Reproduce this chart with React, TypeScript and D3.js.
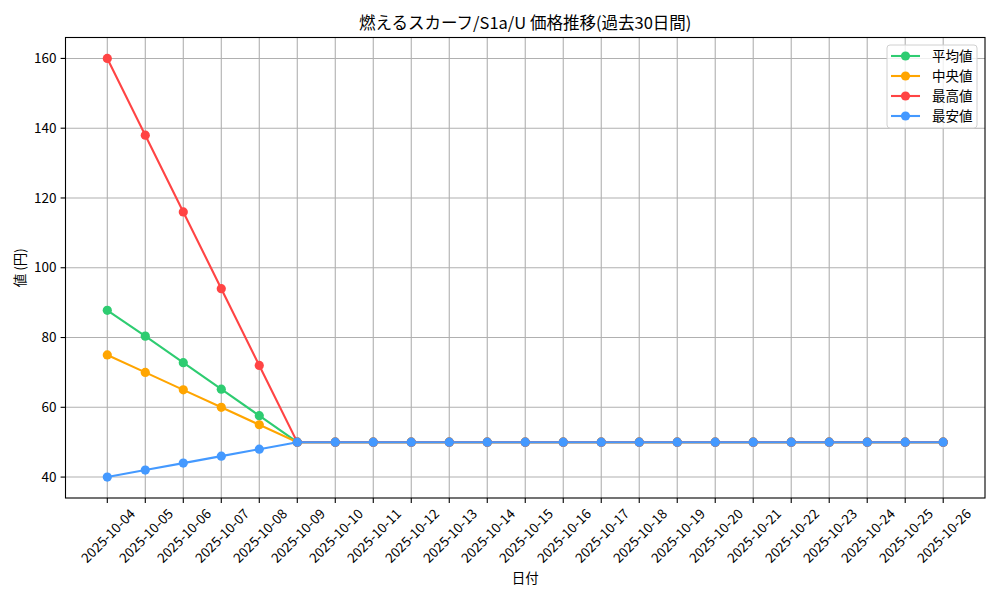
import { useEffect, useRef } from 'react'
import * as d3 from 'd3'

const DATES = [
  '2025-10-04', '2025-10-05', '2025-10-06', '2025-10-07', '2025-10-08', '2025-10-09',
  '2025-10-10', '2025-10-11', '2025-10-12', '2025-10-13', '2025-10-14', '2025-10-15',
  '2025-10-16', '2025-10-17', '2025-10-18', '2025-10-19', '2025-10-20', '2025-10-21',
  '2025-10-22', '2025-10-23', '2025-10-24', '2025-10-25', '2025-10-26',
]
const FLAT = [50, 50, 50, 50, 50, 50, 50, 50, 50, 50, 50, 50, 50, 50, 50, 50, 50]
const AVG = [87.8, 80.4, 72.8, 65.2, 57.6, ...FLAT, 50]
const MEDIAN = [75, 70, 65, 60, 55, ...FLAT, 50]
const MAX = [160, 138, 116, 94, 72, ...FLAT, 50]
const MIN = [40, 42, 44, 46, 48, ...FLAT, 50]
const Y_TICKS = [40, 60, 80, 100, 120, 140, 160]

const SERIES = [
  { name: '平均値', values: AVG, color: '#2ecc71' },
  { name: '中央値', values: MEDIAN, color: '#ffa500' },
  { name: '最高値', values: MAX, color: '#ff4444' },
  { name: '最安値', values: MIN, color: '#4499ff' },
]

const FONT = '"Noto Sans CJK JP", "DejaVu Sans", sans-serif'

export default function App() {
  const ref = useRef<SVGSVGElement>(null)

  useEffect(() => {
    if (!ref.current) return
    const svg = d3.select(ref.current)
    svg.selectAll('*').remove()

    const width = 1000
    const height = 600
    const margin = { top: 37.5, right: 15, bottom: 102, left: 65.5 }
    const iw = width - margin.left - margin.right
    const ih = height - margin.top - margin.bottom

    svg.attr('width', width).attr('height', height)
      .style('font-family', FONT)
    svg.append('rect').attr('width', width).attr('height', height).attr('fill', '#fff')

    const g = svg.append('g').attr('transform', `translate(${margin.left},${margin.top})`)

    // scales (matplotlib-like 5% margins)
    const n = DATES.length - 1
    const x = d3.scaleLinear().domain([-n * 0.05, n * 1.05]).range([0, iw])
    const y = d3.scaleLinear().domain([34, 166]).range([ih, 0])

    // grid
    g.append('g').selectAll('line').data(DATES).join('line')
      .attr('x1', (_, i) => x(i)).attr('x2', (_, i) => x(i))
      .attr('y1', 0).attr('y2', ih)
      .attr('stroke', '#b0b0b0').attr('stroke-width', 1.1)
    g.append('g').selectAll('line').data(Y_TICKS).join('line')
      .attr('x1', 0).attr('x2', iw)
      .attr('y1', d => y(d)).attr('y2', d => y(d))
      .attr('stroke', '#b0b0b0').attr('stroke-width', 1.1)

    // series
    const line = d3.line<number>().x((_, i) => x(i)).y(d => y(d))
    SERIES.forEach(s => {
      g.append('path')
        .datum(s.values)
        .attr('d', line)
        .attr('fill', 'none')
        .attr('stroke', s.color)
        .attr('stroke-width', 2.1)
      g.append('g').selectAll('circle').data(s.values).join('circle')
        .attr('cx', (_, i) => x(i)).attr('cy', d => y(d))
        .attr('r', 4.6)
        .attr('fill', s.color)
    })

    // frame
    g.append('rect').attr('width', iw).attr('height', ih)
      .attr('fill', 'none').attr('stroke', '#000').attr('stroke-width', 1.1)

    // y ticks
    const yt = g.append('g').selectAll('g').data(Y_TICKS).join('g')
      .attr('transform', d => `translate(0,${y(d)})`)
    yt.append('line').attr('x1', -4.9).attr('x2', 0).attr('stroke', '#000').attr('stroke-width', 1.1)
    yt.append('text').attr('x', -9).attr('dy', '0.35em')
      .attr('text-anchor', 'end').attr('font-size', '13.5px').attr('fill', '#000')
      .text(d => d)

    // x ticks
    const xt = g.append('g').selectAll('g').data(DATES).join('g')
      .attr('transform', (_, i) => `translate(${x(i)},${ih})`)
    xt.append('line').attr('y1', 0).attr('y2', 4.9).attr('stroke', '#000').attr('stroke-width', 1.1)
    xt.append('text')
      .attr('transform', 'translate(0,37) rotate(-45)')
      .attr('text-anchor', 'middle').attr('dominant-baseline', 'central')
      .attr('font-size', '13.5px').attr('fill', '#000')
      .text(d => d)

    // axis labels
    g.append('text')
      .attr('x', iw / 2).attr('y', ih + 85)
      .attr('text-anchor', 'middle').attr('font-size', '13.5px').attr('fill', '#000')
      .text('日付')
    g.append('text')
      .attr('transform', `translate(${-41},${ih / 2}) rotate(-90)`)
      .attr('text-anchor', 'middle').attr('font-size', '13.5px').attr('fill', '#000')
      .text('値 (円)')

    // title
    g.append('text')
      .attr('x', iw / 2).attr('y', -9)
      .attr('text-anchor', 'middle').attr('font-size', '16.5px').attr('fill', '#000')
      .text('燃えるスカーフ/S1a/U 価格推移(過去30日間)')

    // legend
    const lx = iw - 98
    const ly = 7.5
    g.append('rect')
      .attr('x', lx).attr('y', ly).attr('width', 90).attr('height', 83)
      .attr('rx', 3).attr('fill', '#fff').attr('fill-opacity', 0.8)
      .attr('stroke', '#d0d0d0').attr('stroke-width', 1)
    SERIES.forEach((s, i) => {
      const ey = ly + 11 + i * 20
      const lg = g.append('g').attr('transform', `translate(${lx},${ey})`)
      lg.append('line').attr('x1', 4).attr('x2', 33).attr('stroke', s.color).attr('stroke-width', 2.1)
      lg.append('circle').attr('cx', 18.5).attr('r', 4.6).attr('fill', s.color)
      lg.append('text').attr('x', 45).attr('dy', '0.35em')
        .attr('font-size', '13.5px').attr('fill', '#000')
        .text(s.name)
    })
  }, [])

  return <svg ref={ref} style={{ display: 'block', position: 'absolute', left: 0, top: 0 }} />
}
